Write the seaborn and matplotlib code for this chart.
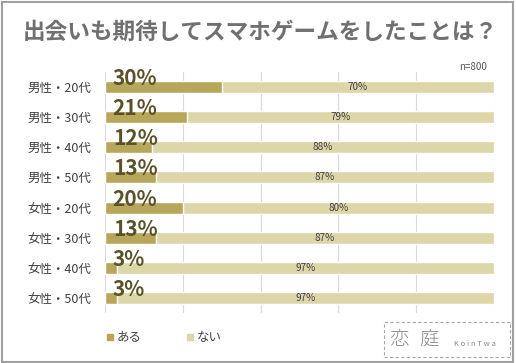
import matplotlib
matplotlib.use("Agg")
import matplotlib.pyplot as plt
import seaborn as sns
import pandas as pd
from matplotlib.patches import Rectangle

groups = ["男性・20代", "男性・30代", "男性・40代", "男性・50代",
          "女性・20代", "女性・30代", "女性・40代", "女性・50代"]
yes_pct = [30, 21, 12, 13, 20, 13, 3, 3]
no_pct = [70, 79, 88, 87, 80, 87, 97, 97]

sns.set_style("white")
plt.rcParams['font.family'] = ['Noto Sans CJK JP', 'DejaVu Sans']

df = pd.DataFrame({"group": groups, "yes": yes_pct, "no": no_pct})
df["total"] = df["yes"] + df["no"]

dark = "#b7a75b"
light = "#ddd6a9"

fig = plt.figure(figsize=(5.16, 3.63), dpi=100)
ax = fig.add_axes([0.2035, 0.1377, 0.754, 0.664])

sns.barplot(data=df, x="total", y="group", color=light, width=0.4,
            saturation=1, ax=ax, zorder=2)
sns.barplot(data=df, x="yes", y="group", color=dark, width=0.4,
            saturation=1, ax=ax, zorder=3)

ax.set_xlim(0, 100)
ax.set_ylim(7.5, -0.5)
for g in range(0, 101, 20):
    ax.axvline(g, color="#d9d9d9", lw=0.8, zorder=1)
sns.despine(ax=ax, left=True, bottom=True)
ax.set_xticks([])
ax.set_xlabel("")
ax.set_ylabel("")
ax.tick_params(axis="y", length=0, pad=10)
ax.set_yticklabels(groups, fontsize=9, color="#404040")

for i, (y, n) in enumerate(zip(yes_pct, no_pct)):
    ax.text(2, i - 0.28, f"{y}%", fontsize=15, fontweight="bold",
            color="#5a5128", va="center", ha="left", zorder=4)
    ax.text(y + n / 2, i, f"{n}%", fontsize=7.2, color="#404040",
            va="center", ha="center", zorder=4)

fig.text(0.045, 0.91, "出会いも期待してスマホゲームをしたことは？",
         fontsize=16.3, fontweight="bold", color="#707070", va="center")
fig.text(0.944, 0.815, "n=800", fontsize=7, color="#555555",
         ha="right", va="center")

# legend
fig.patches.append(Rectangle((107 / 516, 1 - 340 / 363), 6 / 516, 6 / 363,
                             transform=fig.transFigure, color=dark))
fig.text(117 / 516, 1 - 337 / 363, "ある", fontsize=9, color="#404040", va="center")
fig.patches.append(Rectangle((187 / 516, 1 - 340 / 363), 6 / 516, 6 / 363,
                             transform=fig.transFigure, color=light))
fig.text(197 / 516, 1 - 337 / 363, "ない", fontsize=9, color="#404040", va="center")

# watermark box
fig.patches.append(Rectangle((384 / 516, 1 - 357 / 363), 126 / 516, 35 / 363,
                             transform=fig.transFigure, fill=False,
                             edgecolor="#a8a8a8", lw=0.8, ls=(0, (3, 2))))
fig.text(389 / 516, 1 - 340 / 363, "恋", fontsize=14, fontweight="light",
         color="#8a8a8a", va="center")
fig.text(419 / 516, 1 - 340 / 363, "庭", fontsize=14, fontweight="light",
         color="#8a8a8a", va="center")
fig.text(454 / 516, 1 - 344 / 363, "K o i n T w a", fontsize=5.5, color="#8a8a8a",
         va="center")

# outer frame
fig.patches.append(Rectangle((0.003, 0.004), 0.992, 0.991, transform=fig.transFigure,
                             fill=False, edgecolor="#a0a0a0", lw=1.5))

fig.savefig("out.png", dpi=100)
